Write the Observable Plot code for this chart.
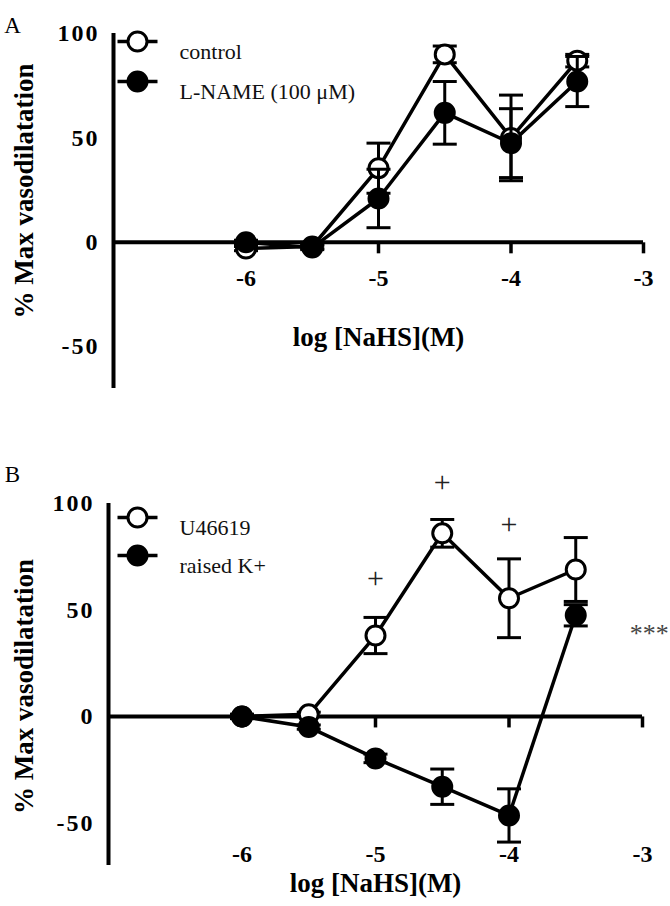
<!DOCTYPE html>
<html><head><meta charset="utf-8">
<script src="https://cdn.jsdelivr.net/npm/d3@7"></script>
<script src="https://cdn.jsdelivr.net/npm/@observablehq/plot@0.6"></script>
<style>
html,body{margin:0;padding:0;background:#fff;}
#wrap{width:670px;}
#wrap svg{display:block;overflow:visible;}
g[aria-label="y-axis tick label"], g[aria-label="xticklabel"]{letter-spacing:2px;}
g[aria-label="ylabel"], g[aria-label="xlabel"]{letter-spacing:1px;}
</style>
</head><body><div id="wrap"></div>
<script>
// ---------- data ----------
const xDoses = [-6, -5.5, -5, -4.5, -4, -3.5];
const xTicks = [-6, -5, -4, -3];
const yTicks = [100, 50, 0, -50];

// Panel A
const controlMean = [-3, -2, 35.5, 90, 50, 87];
const controlErr  = [1, 1, 12, 4, 20.5, 3];
const lnameMean   = [0, -2.5, 21, 62, 47.5, 77];
const lnameErr    = [1, 1, 14, 15, 16.5, 12];
const legendA = ["control", "L-NAME (100 μM)"];

// Panel B
const u466Mean = [0, 1, 38, 86, 55.5, 69];
const u466Err  = [1, 1, 8.5, 6.5, 18.5, 15];
const kMean    = [0, -5, -19.7, -33, -46.5, 47.5];
const kErr     = [1, 1, 2, 8.3, 12.5, 5];
const legendB = ["U46619", "raised K+"];

const plusX = [-5, -4.5, -4];
const plusY = [65, 110, 90];
const starX = [-2.95];
const starY = [42];
const starText = ["***"];

const yLabel = "% Max vasodilatation";
const xLabel = "log [NaHS](M)";
const xDomain = [-7, -3];
const yDomain = [-70, 100];

// ---------- helpers ----------
const capSym = {draw(ctx){ctx.moveTo(-12,0);ctx.lineTo(12,0);}};
const tickDownSym = {draw(ctx){ctx.moveTo(0,0);ctx.lineTo(0,11);}};
const legLineSym = {draw(ctx){ctx.moveTo(-20,0);ctx.lineTo(20,0);}};
const FONT = "'Liberation Serif', 'Times New Roman', serif";

function rowsOf(mean, err){ return xDoses.map((x,i)=>({x, y: mean[i], e: err[i]})); }

function panel(cfg){
  const {height, mt, mb, ml, mr, series, legend, letter, letterDy, ylabelDy, xTickMode, xlabelDy, legendDx, legendDy, extra} = cfg;
  const marks = [];
  // axes
  marks.push(Plot.ruleY([0], {x1: xDomain[0], x2: xDomain[1], stroke: "black", strokeWidth: 4}));
  marks.push(Plot.ruleX([xDomain[0]], {y1: yDomain[0], y2: yTicks[0], stroke: "black", strokeWidth: 4}));
  marks.push(Plot.dot(xTicks, {x: d=>d, y: 0, symbol: tickDownSym, fill: "none", stroke: "black", strokeWidth: 3.5}));
  marks.push(Plot.axisY({ticks: yTicks, tickFormat: d=>String(d), tickSize: 11, tickPadding: 3, strokeWidth: 3.5, fontSize: 24, fontWeight: "bold", fontFamily: FONT, label: null, fill: "black", stroke: "none"}));
  if (xTickMode === "zero") {
    marks.push(Plot.text(xTicks, {x: d=>d, y: 0, dy: 36, text: d=>String(d), fontSize: 24, fontWeight: "bold", fill: "black", ariaLabel: "xticklabel"}));
  } else {
    marks.push(Plot.text(xTicks, {x: d=>d, frameAnchor: "bottom", dy: -4, text: d=>String(d), textAnchor: "middle", fontSize: 24, fontWeight: "bold", fill: "black", ariaLabel: "xticklabel"}));
  }
  // lines
  for (const s of series) {
    marks.push(Plot.line(s.rows, {x: "x", y: "y", stroke: "black", strokeWidth: 3.5}));
  }
  // error bars + dots
  for (const s of series) {
    marks.push(Plot.ruleX(s.rows, {x: "x", y1: d=>d.y-d.e, y2: d=>d.y+d.e, stroke: "black", strokeWidth: 3}));
    marks.push(Plot.dot(s.rows, {x: "x", y: d=>d.y+d.e, symbol: capSym, fill: "none", stroke: "black", strokeWidth: 3}));
    marks.push(Plot.dot(s.rows, {x: "x", y: d=>d.y-d.e, symbol: capSym, fill: "none", stroke: "black", strokeWidth: 3}));
    marks.push(Plot.dot(s.rows, {x: "x", y: "y", r: 9.5, fill: s.filled ? "black" : "white", stroke: "black", strokeWidth: 3}));
  }
  // legend
  legend.forEach((name, i) => {
    const dy = legendDy[i];
    const filled = series[i].filled;
    marks.push(Plot.dot([name], {frameAnchor: "top-left", dx: legendDx, dy, symbol: legLineSym, fill: "none", stroke: "black", strokeWidth: 3.5}));
    marks.push(Plot.dot([name], {frameAnchor: "top-left", dx: legendDx, dy, r: 9.5, fill: filled ? "black" : "white", stroke: "black", strokeWidth: 3}));
    marks.push(Plot.text([name], {frameAnchor: "top-left", dx: legendDx + 42, dy: dy + 2, text: d=>d, textAnchor: "start", fontSize: 22, fill: "#111"}));
  });
  // labels
  marks.push(Plot.text([letter], {frameAnchor: "top-left", dx: 12 - ml, dy: letterDy, text: d=>d, textAnchor: "middle", fontSize: 23, fill: "black"}));
  marks.push(Plot.text([yLabel], {frameAnchor: "left", rotate: -90, dx: 24 - ml, dy: ylabelDy, text: d=>d, textAnchor: "middle", fontSize: 27, fontWeight: "bold", fill: "black", ariaLabel: "ylabel"}));
  marks.push(Plot.text([xLabel], {frameAnchor: "bottom", dy: xlabelDy, text: d=>d, textAnchor: "middle", fontSize: 27, fontWeight: "bold", fill: "black", ariaLabel: "xlabel"}));
  if (extra) marks.push(...extra);
  return Plot.plot({
    width: 670, height,
    marginTop: mt, marginBottom: mb, marginLeft: ml, marginRight: mr,
    x: {domain: xDomain, axis: null},
    y: {domain: yDomain},
    style: {fontFamily: FONT, background: "white", color: "black", overflow: "visible"},
    marks
  });
}

const wrap = document.getElementById("wrap");
wrap.appendChild(panel({
  height: 450, mt: 33, mb: 62, ml: 113, mr: 27,
  series: [
    {rows: rowsOf(controlMean, controlErr), filled: false},
    {rows: rowsOf(lnameMean, lnameErr), filled: true}
  ],
  legend: legendA, legendDx: 24, legendDy: [8, 48],
  letter: "A", letterDy: -17, ylabelDy: -20, xTickMode: "zero", xlabelDy: -43
}));
wrap.appendChild(panel({
  height: 456, mt: 53, mb: 41, ml: 108, mr: 28,
  series: [
    {rows: rowsOf(u466Mean, u466Err), filled: false},
    {rows: rowsOf(kMean, kErr), filled: true}
  ],
  legend: legendB, legendDx: 29, legendDy: [14, 52],
  letter: "B", letterDy: -38, ylabelDy: 2, xTickMode: "bottom", xlabelDy: 26,
  extra: [
    Plot.text(plusX, {x: d=>d, y: (d,i)=>plusY[i], text: ()=>"+", fontSize: 30, fill: "#222"}),
    Plot.text(starText, {x: (d,i)=>starX[i], y: (d,i)=>starY[i], text: d=>d, dy: 7, fontSize: 26, fill: "#444"})
  ]
}));
</script>
</body></html>
